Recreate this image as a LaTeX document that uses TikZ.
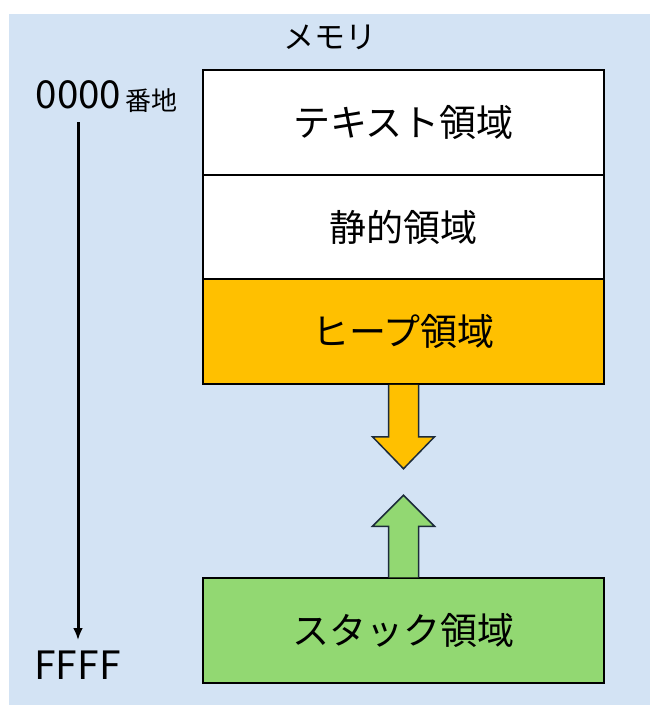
\documentclass[tikz,border=0pt]{standalone}
\usepackage{fontspec}
\setmainfont{Noto Sans CJK JP}
\usetikzlibrary{calc,arrows.meta}
\definecolor{bgblue}{HTML}{D3E3F4}
\definecolor{heap}{HTML}{FFC000}
\definecolor{stackg}{HTML}{92D872}
\definecolor{arrline}{HTML}{1C2B3A}
\tikzset{
  memblock/.style={draw=black, line width=2pt, minimum width=401pt, minimum height=104.5pt, inner sep=0pt, font=\fontsize{37}{40}\selectfont},
  blockarrow/.style={draw=arrline, line width=1.5pt, line join=miter},
  lbl/.style={inner sep=0pt, anchor=center}
}
\begin{document}
\begin{tikzpicture}[x=1pt,y=-1pt]
\useasboundingbox (0,0) rectangle (660,720);
\fill[bgblue] (9,14) rectangle (650,705);
\node[lbl, font=\fontsize{31}{34}\selectfont] (mem) at (330,37) {メモリ};
\node[memblock, fill=white] (text) at (403.5,122.5) {テキスト領域};
\node[memblock, fill=white] (static) at (403.5,227) {静的領域};
\node[memblock, fill=heap] (heapb) at (403.5,331.5) {ヒープ領域};
\node[memblock, fill=stackg] (stack) at (403.5,630.5) {スタック領域};
% heap growth arrow (down)
\draw[blockarrow, fill=heap] ($(heapb.south)+(-15,0)$) -- ++(0,52) -- ++(-16,0) -- ($(heapb.south)+(0,84)$) -- ($(heapb.south)+(31,52)$) -- ++(-16,0) -- ($(heapb.south)+(15,0)$);
% stack growth arrow (up)
\draw[blockarrow, fill=stackg] ($(stack.north)+(-15,0)$) -- ++(0,-51) -- ++(-16,0) -- ($(stack.north)+(0,-82)$) -- ($(stack.north)+(31,-51)$) -- ++(-16,0) -- ($(stack.north)+(15,0)$);
% address labels and axis
\node[lbl, font=\fontsize{38.5}{41}\selectfont] (a0) at (78.5,95) {0000};
\node[lbl, font=\fontsize{26}{29}\selectfont, anchor=west] (banchi) at (125,101) {番地};
\node[lbl, font=\fontsize{39}{42}\selectfont] (af) at (77.5,665) {FFFF};
\coordinate (axtop) at (78,122);
\coordinate (axbot) at (78,640);
\draw[line width=3pt, -{Latex[length=12pt,width=10pt]}] (axtop) -- (axbot);
\end{tikzpicture}
\end{document}
